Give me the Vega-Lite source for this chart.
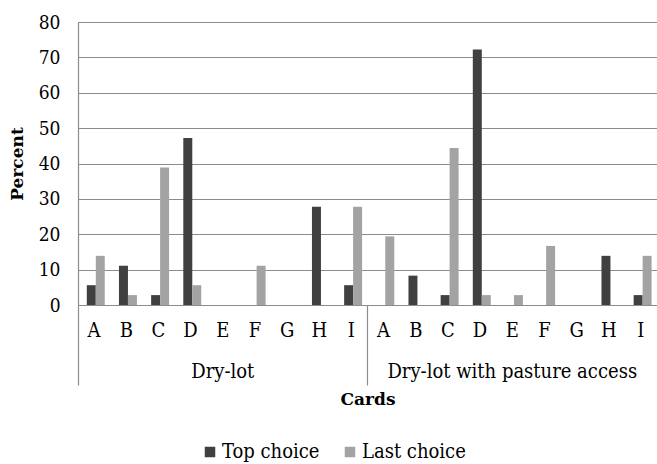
{
  "$schema": "https://vega.github.io/schema/vega-lite/v6.json",
  "width": 579,
  "height": 283,
  "autosize": "none",
  "padding": {"left": 78, "top": 22, "right": 0, "bottom": 159},
  "background": "white",
  "config": {
    "font": "DejaVu Serif Condensed",
    "view": {"stroke": null},
    "axis": {"labelColor": "black", "titleColor": "black", "labelFont": "DejaVu Serif Condensed", "titleFont": "DejaVu Serif"},
    "legend": {"labelFont": "DejaVu Serif Condensed"}
  },
  "data": {
    "values": [
      {"group": "Dry-lot", "key": "1|A", "series": "Top choice", "value": 5.6},
      {"group": "Dry-lot", "key": "1|A", "series": "Last choice", "value": 13.9},
      {"group": "Dry-lot", "key": "1|B", "series": "Top choice", "value": 11.1},
      {"group": "Dry-lot", "key": "1|B", "series": "Last choice", "value": 2.8},
      {"group": "Dry-lot", "key": "1|C", "series": "Top choice", "value": 2.8},
      {"group": "Dry-lot", "key": "1|C", "series": "Last choice", "value": 38.9},
      {"group": "Dry-lot", "key": "1|D", "series": "Top choice", "value": 47.2},
      {"group": "Dry-lot", "key": "1|D", "series": "Last choice", "value": 5.6},
      {"group": "Dry-lot", "key": "1|E", "series": "Top choice", "value": 0},
      {"group": "Dry-lot", "key": "1|E", "series": "Last choice", "value": 0},
      {"group": "Dry-lot", "key": "1|F", "series": "Top choice", "value": 0},
      {"group": "Dry-lot", "key": "1|F", "series": "Last choice", "value": 11.1},
      {"group": "Dry-lot", "key": "1|G", "series": "Top choice", "value": 0},
      {"group": "Dry-lot", "key": "1|G", "series": "Last choice", "value": 0},
      {"group": "Dry-lot", "key": "1|H", "series": "Top choice", "value": 27.8},
      {"group": "Dry-lot", "key": "1|H", "series": "Last choice", "value": 0},
      {"group": "Dry-lot", "key": "1|I", "series": "Top choice", "value": 5.6},
      {"group": "Dry-lot", "key": "1|I", "series": "Last choice", "value": 27.8},
      {"group": "Dry-lot with pasture access", "key": "2|A", "series": "Top choice", "value": 0},
      {"group": "Dry-lot with pasture access", "key": "2|A", "series": "Last choice", "value": 19.4},
      {"group": "Dry-lot with pasture access", "key": "2|B", "series": "Top choice", "value": 8.3},
      {"group": "Dry-lot with pasture access", "key": "2|B", "series": "Last choice", "value": 0},
      {"group": "Dry-lot with pasture access", "key": "2|C", "series": "Top choice", "value": 2.8},
      {"group": "Dry-lot with pasture access", "key": "2|C", "series": "Last choice", "value": 44.4},
      {"group": "Dry-lot with pasture access", "key": "2|D", "series": "Top choice", "value": 72.2},
      {"group": "Dry-lot with pasture access", "key": "2|D", "series": "Last choice", "value": 2.8},
      {"group": "Dry-lot with pasture access", "key": "2|E", "series": "Top choice", "value": 0},
      {"group": "Dry-lot with pasture access", "key": "2|E", "series": "Last choice", "value": 2.8},
      {"group": "Dry-lot with pasture access", "key": "2|F", "series": "Top choice", "value": 0},
      {"group": "Dry-lot with pasture access", "key": "2|F", "series": "Last choice", "value": 16.7},
      {"group": "Dry-lot with pasture access", "key": "2|G", "series": "Top choice", "value": 0},
      {"group": "Dry-lot with pasture access", "key": "2|G", "series": "Last choice", "value": 0},
      {"group": "Dry-lot with pasture access", "key": "2|H", "series": "Top choice", "value": 13.9},
      {"group": "Dry-lot with pasture access", "key": "2|H", "series": "Last choice", "value": 0},
      {"group": "Dry-lot with pasture access", "key": "2|I", "series": "Top choice", "value": 2.8},
      {"group": "Dry-lot with pasture access", "key": "2|I", "series": "Last choice", "value": 13.9}
    ]
  },
  "layer": [
    {
      "mark": {"type": "bar"},
      "encoding": {
        "x": {
          "field": "key", "type": "nominal", "sort": "ascending",
          "scale": {"paddingInner": 0, "paddingOuter": 0},
          "axis": {
            "title": null,
            "labelExpr": "split(datum.value, '|')[1]",
            "labelAngle": 0,
            "labelFontSize": 20,
            "labelPadding": 15,
            "ticks": false,
            "domainColor": "#8c8c8c",
            "domainWidth": 1.2,
            "grid": false
          }
        },
        "xOffset": {
          "field": "series", "type": "nominal",
          "sort": ["Top choice", "Last choice"],
          "scale": {"paddingInner": 0, "paddingOuter": 0.79, "align": 0.62}
        },
        "y": {
          "field": "value", "type": "quantitative",
          "scale": {"domain": [0, 80], "nice": false},
          "axis": {
            "title": "Percent",
            "titleFontSize": 17,
            "titleFontWeight": "bold",
            "titlePadding": 12,
            "values": [0, 10, 20, 30, 40, 50, 60, 70, 80],
            "labelFontSize": 19,
            "labelPadding": 18,
            "ticks": false,
            "domainColor": "#8c8c8c",
            "domainWidth": 1.2,
            "grid": true,
            "gridColor": "#8c8c8c",
            "gridWidth": 1.2
          }
        },
        "color": {
          "field": "series", "type": "nominal",
          "sort": ["Top choice", "Last choice"],
          "scale": {"domain": ["Top choice", "Last choice"], "range": ["#404040", "#a3a3a3"]},
          "legend": {
            "title": null,
            "orient": "none",
            "direction": "horizontal",
            "legendX": 122,
            "legendY": 420,
            "symbolType": "square",
            "symbolSize": 110,
            "symbolStrokeWidth": 0,
            "labelFontSize": 20,
            "labelColor": "black",
            "labelOffset": 2,
            "labelLimit": 0,
            "columnPadding": 20
          }
        }
      }
    },
    {
      "mark": {"type": "point", "opacity": 0},
      "encoding": {
        "x": {
          "field": "key", "type": "nominal", "sort": "ascending",
          "axis": {
            "orient": "bottom",
            "values": ["1|E", "2|E"],
            "labelExpr": "datum.value == '1|E' ? 'Dry-lot' : 'Dry-lot with pasture access'",
            "labelAngle": 0,
            "labelFontSize": 20,
            "labelPadding": 56,
            "labelLimit": 0,
            "labelOverlap": false,
            "labelBound": false,
            "ticks": false,
            "domain": false,
            "grid": false,
            "title": "Cards",
            "titleFontSize": 17,
            "titleFontWeight": "bold",
            "titlePadding": 10
          }
        }
      }
    },
    {
      "mark": {"type": "point", "opacity": 0},
      "encoding": {
        "x": {
          "field": "key", "type": "nominal", "sort": "ascending",
          "axis": {
            "orient": "bottom",
            "values": ["1|A", "2|A"],
            "bandPosition": 0,
            "labels": false,
            "ticks": true,
            "tickSize": 80,
            "tickColor": "#8c8c8c",
            "tickWidth": 1.2,
            "domain": false,
            "grid": false,
            "title": null
          }
        }
      }
    }
  ],
  "resolve": {"axis": {"x": "independent"}}
}
